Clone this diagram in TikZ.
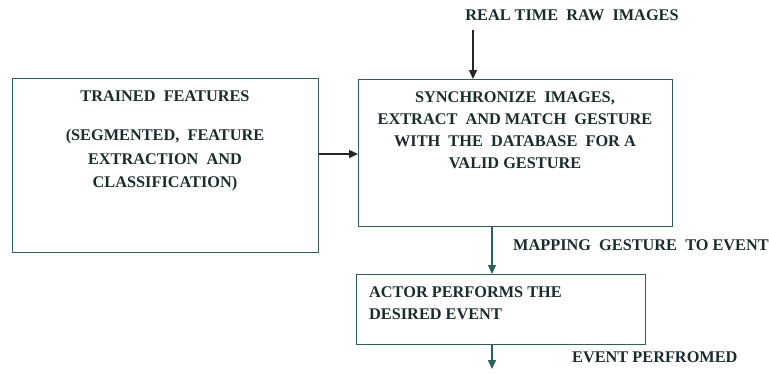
\documentclass[tikz,border=0pt]{standalone}
\usepackage{fontspec}
\setmainfont{Liberation Serif}
\usetikzlibrary{arrows.meta}
\definecolor{linec}{RGB}{45,95,95}
\definecolor{textc}{RGB}{25,45,45}
\begin{document}
\begin{tikzpicture}[x=1pt,y=-1pt,
  box/.style={draw=linec,line width=1.4pt,inner sep=0pt},
  lbl/.style={text=textc,font=\bfseries\fontsize{16.3}{22.5}\selectfont,inner sep=0pt},
  conn/.style={draw=black!85,line width=1.4pt,-{Triangle[length=9pt,width=8pt]}}]
\useasboundingbox (0,0) rectangle (769,375);
% boxes
\node[box,minimum width=306,minimum height=174,anchor=north west] (trained) at (12,78) {};
\node[box,minimum width=314,minimum height=147,anchor=north west] (sync) at (358,79) {};
\node[box,minimum width=289,minimum height=70,anchor=north west] (actor) at (356,274) {};
% texts
\node[lbl,align=center,anchor=north,font=\bfseries\fontsize{16.3}{23.5}\selectfont] (ttxt) at (165,91) {TRAINED\ \ FEATURES\\[15.5pt](SEGMENTED,\ \ FEATURE\\EXTRACTION\ \ AND\\CLASSIFICATION)};
\node[lbl,align=center,anchor=north,font=\bfseries\fontsize{16.3}{22}\selectfont] (stxt) at (515,92) {SYNCHRONIZE\ \ IMAGES,\\EXTRACT\ \ AND\ MATCH\ \ GESTURE\\WITH\ \ THE\ \ DATABASE\ \ FOR\ A\\VALID\ GESTURE};
\node[lbl,align=left,anchor=north west,font=\bfseries\fontsize{16.3}{22}\selectfont] (atxt) at (369,287) {ACTOR PERFORMS THE\\DESIRED EVENT};
\node[lbl,anchor=center] (raw) at (572,15) {REAL TIME\ \ RAW\ \ IMAGES};
\node[lbl,anchor=west] (map) at (513,245) {MAPPING\ \ GESTURE\ \ TO\ EVENT};
\node[lbl,anchor=west] (perf) at (572,357) {EVENT PERFROMED};
% connectors
\coordinate (rawtop) at (473,30);
\coordinate (endp) at (492,369);
\draw[conn] (rawtop) -- (rawtop |- sync.north);
\draw[conn] (trained.east |- 0,154) -- (sync.west |- 0,154);
\draw[conn,draw=linec] (492,226) -- (492,274);
\draw[conn,draw=linec] (492,344) -- (endp);
\end{tikzpicture}
\end{document}
